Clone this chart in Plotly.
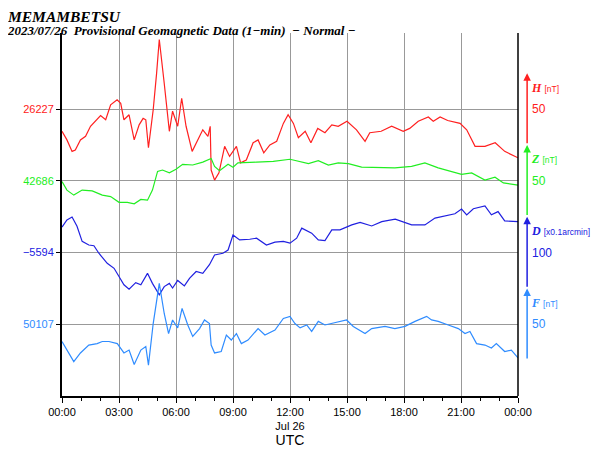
import plotly.graph_objects as go

# hours UTC, deviations from baseline
H_t = [0, .26, .53, .7, .97, 1.24, 1.5, 1.76, 2.03, 2.3, 2.56, 2.9, 3.09, 3.26, 3.53, 3.8, 4.06, 4.27, 4.41, 4.55,
       4.8, 4.98, 5.12, 5.38, 5.65, 5.82, 6.09, 6.3, 6.53, 6.85, 7.15, 7.41, 7.68, 7.8, 7.85, 8.03, 8.26, 8.56,
       8.82, 9.18, 9.4, 9.7, 10.06, 10.32, 10.62, 10.94, 11.3, 11.65, 11.9, 12.18, 12.44, 12.8, 13.1, 13.46,
       13.84, 14.2, 14.54, 15.0, 15.5, 15.95, 16.2, 16.8, 17.35, 17.96, 18.3, 18.75, 19.28, 19.54, 19.9, 20.3,
       20.95, 21.3, 21.74, 22.26, 22.8, 23.3, 24]
H_d = [-31, -43, -59, -57, -43, -38, -24, -17, -9, -15, 6, 13, 8, -15, -8, -43, -22, -13, -15, -54,
       -1, 50, 97, 36, -31, -3, -24, 15, -24, -59, -43, -29, -38, -24, -85, -99, -89, -52,
       -66, -52, -75, -71, -47, -43, -61, -50, -45, -20, -8, -20, -40, -31, -47, -27,
       -33, -22, -24, -17, -29, -45, -33, -31, -24, -31, -27, -17, -11, -17, -11, -16,
       -20, -29, -52, -52, -47, -59, -68]

Z_t = [0, .26, .62, 1.06, 1.59, 2.12, 2.56, 3.0, 3.44, 3.8, 4.15, 4.5, 4.76, 5.03, 5.29, 5.65, 6.0, 6.35, 6.88,
       7.41, 7.85, 8.03, 8.29, 8.74, 9.0, 9.26, 10.24, 11.12, 12.0, 12.44, 12.97, 13.49, 14.02, 14.54, 15.07,
       15.77, 16.65, 17.52, 18.4, 19.1, 19.8, 20.5, 21.03, 21.56, 22.26, 22.79, 23.23, 24]
Z_d = [-1, -13, -20, -13, -14, -20, -22, -30, -30, -32, -26, -27, -13, 13, 15, 11, 16, 23, 22,
       26, 31, 20, 14, 23, 19, 25, 26, 27, 30, 27, 24, 28, 22, 25, 24,
       19, 19, 18, 20, 25, 18, 13, 9, 11, 1, 5, -3, -6]

D_t = [0, .26, .53, .79, 1.06, 1.41, 1.68, 1.94, 2.38, 2.74, 3.0, 3.26, 3.53, 3.88, 4.15, 4.5, 4.76, 5.12,
       5.38, 5.65, 5.82, 6.09, 6.44, 6.71, 7.06, 7.41, 7.76, 8.03, 8.47, 8.74, 9.0, 9.35, 9.88, 10.24, 10.76,
       11.21, 11.65, 12.0, 12.35, 12.62, 13.14, 13.49, 13.84, 14.2, 14.63, 15.25, 15.69, 16.3, 16.83, 17.54,
       18.4, 19.1, 19.63, 20.16, 20.68, 21.03, 21.3, 21.65, 22.26, 22.6, 22.95, 23.3, 24]
D_d = [71, 91, 99, 73, 31, 21, 19, -2, -30, -44, -67, -90, -102, -84, -90, -58, -86, -118,
       -95, -86, -99, -78, -93, -72, -53, -58, -34, -7, -2, 7, 49, 35, 37, 40, 21,
       29, 31, 26, 40, 68, 54, 35, 33, 63, 63, 77, 84, 74, 86, 93,
       77, 77, 96, 102, 108, 121, 105, 122, 130, 105, 114, 88, 86]

F_t = [0, .35, .62, .97, 1.41, 1.85, 2.12, 2.47, 2.91, 3.26, 3.53, 3.8, 4.15, 4.41, 4.55, 4.8, 5.12, 5.38,
       5.61, 5.82, 6.09, 6.32, 6.62, 6.88, 7.24, 7.5, 7.76, 7.85, 8.03, 8.38, 8.65, 8.91, 9.18, 9.44, 9.79,
       10.32, 10.68, 11.21, 11.65, 12.0, 12.26, 12.53, 12.88, 13.14, 13.49, 13.84, 14.37, 14.98, 15.33,
       15.95, 16.3, 17.0, 17.52, 18.05, 18.58, 19.19, 19.45, 19.8, 20.33, 20.86, 21.21, 21.47, 21.82, 22.26,
       22.6, 22.86, 23.3, 23.65, 24]
F_d = [-24, -40, -52, -40, -29, -27, -24, -24, -27, -40, -36, -56, -36, -31, -57, 1, 57, 15,
       -13, 6, -5, 22, -1, -17, -6, 6, 1, -29, -40, -38, -15, -22, -13, -27, -22,
       -6, -15, -8, 8, 11, 1, -5, -1, -10, 4, -1, 2, 6, -3,
       -13, -6, -3, -6, -3, 4, 11, 6, 4, -1, -6, -13, -10, -27, -29,
       -33, -27, -38, -36, -47]

BASE_LABELS = ["50107", "\u22125594", "42686", "26227"]
X_TICKS = ["00:00", "03:00", "06:00", "09:00", "12:00<br>Jul 26", "15:00", "18:00", "21:00", "00:00"]

RED, GREEN, BLUE, SKY = "#ff2020", "#22ee22", "#2020e0", "#2f8cff"
# (name, times, values, units per grid step, grid level, colour)
SERIES = [
    ("H", H_t, H_d, 100, 4, RED),
    ("Z", Z_t, Z_d, 100, 3, GREEN),
    ("D", D_t, D_d, 200, 2, BLUE),
    ("F", F_t, F_d, 100, 1, SKY),
]

fig = go.Figure()
for name, t, d, unit, lvl, col in SERIES:
    fig.add_trace(go.Scatter(x=t, y=[lvl + v / unit for v in d], mode="lines",
                             line=dict(color=col, width=1.2), name=name, showlegend=False))

fig.update_xaxes(range=[0, 24], tickvals=list(range(0, 25, 3)), ticktext=X_TICKS,
                 showgrid=True, gridcolor="#999", gridwidth=1, showline=True, linecolor="black",
                 linewidth=1.5, ticks="outside", ticklen=5, tickcolor="black", automargin=False,
                 minor=dict(dtick=1, ticks="outside", ticklen=3, tickcolor="black", showgrid=False),
                 title=dict(text="UTC", font=dict(size=14), standoff=2),
                 tickfont=dict(size=11, color="black"))
cols = [SKY, BLUE, GREEN, RED]
fig.update_yaxes(range=[0, 5.06], tickvals=[1, 2, 3, 4], automargin=False,
                 ticktext=[f"<span style='color:{c}'>{l}</span>" for l, c in zip(BASE_LABELS, cols)],
                 showgrid=True, gridcolor="#999", showline=True, linecolor="black", linewidth=2,
                 ticks="outside", ticklen=4, tickcolor="black", zeroline=False,
                 tickfont=dict(size=11))
# right frame line
fig.add_shape(type="line", xref="paper", yref="paper", x0=1, x1=1, y0=0, y1=1,
              line=dict(color="black", width=1.5))

# right-hand scale arrows
gpx = 71.7  # px per grid step
right = [("H", "[nT]", "50", RED, 4.5), ("Z", "[nT]", "50", GREEN, 3.5),
         ("D", "[x0.1arcmin]", "100", BLUE, 2.5), ("F", "[nT]", "50", SKY, 1.5)]
for name, unit, tick, col, top in right:
    fig.add_annotation(x=1.02, y=top, xref="paper", yref="y", ax=0, ay=gpx,
                       axref="pixel", ayref="pixel", showarrow=True, arrowhead=2, arrowsize=1,
                       arrowwidth=1.5, arrowcolor=col, text="")
    fig.add_annotation(x=1.024, y=top - 0.2, xref="paper", yref="y", xanchor="left",
                       showarrow=False,
                       text=f"<b><i style='font-family:Liberation Serif;font-size:12px'>{name}</i></b> <span style='font-size:8.5px'>{unit}</span>",
                       font=dict(color=col, size=11))
    fig.add_annotation(x=1.027, y=top - 0.5, xref="paper", yref="y", xanchor="left",
                       showarrow=False, text=tick, font=dict(color=col, size=12))

fig.add_annotation(x=0, y=1, xref="paper", yref="paper", xshift=-56, yanchor="bottom", yshift=7,
                   xanchor="left", showarrow=False, borderpad=0,
                   text="<b><i>MEMAMBETSU</i></b>",
                   font=dict(family="Liberation Serif", size=15.5, color="black"))
fig.add_annotation(x=0, y=1, xref="paper", yref="paper", xshift=-56, yanchor="bottom", yshift=-6,
                   xanchor="left", showarrow=False, borderpad=0,
                   text="<b><i>2023/07/26  Provisional Geomagnetic Data (1\u2212min)  \u2212 Normal \u2212</i></b>",
                   font=dict(family="Liberation Serif", size=13, color="black"))

# the page puts the plot 8px in from the top-left corner
fig.update_layout(width=592, height=443, margin=dict(l=54, r=82, t=25, b=55),
                  paper_bgcolor="white", plot_bgcolor="white",
                  font=dict(family="Liberation Sans", color="black"))
fig.write_html("out.html")
